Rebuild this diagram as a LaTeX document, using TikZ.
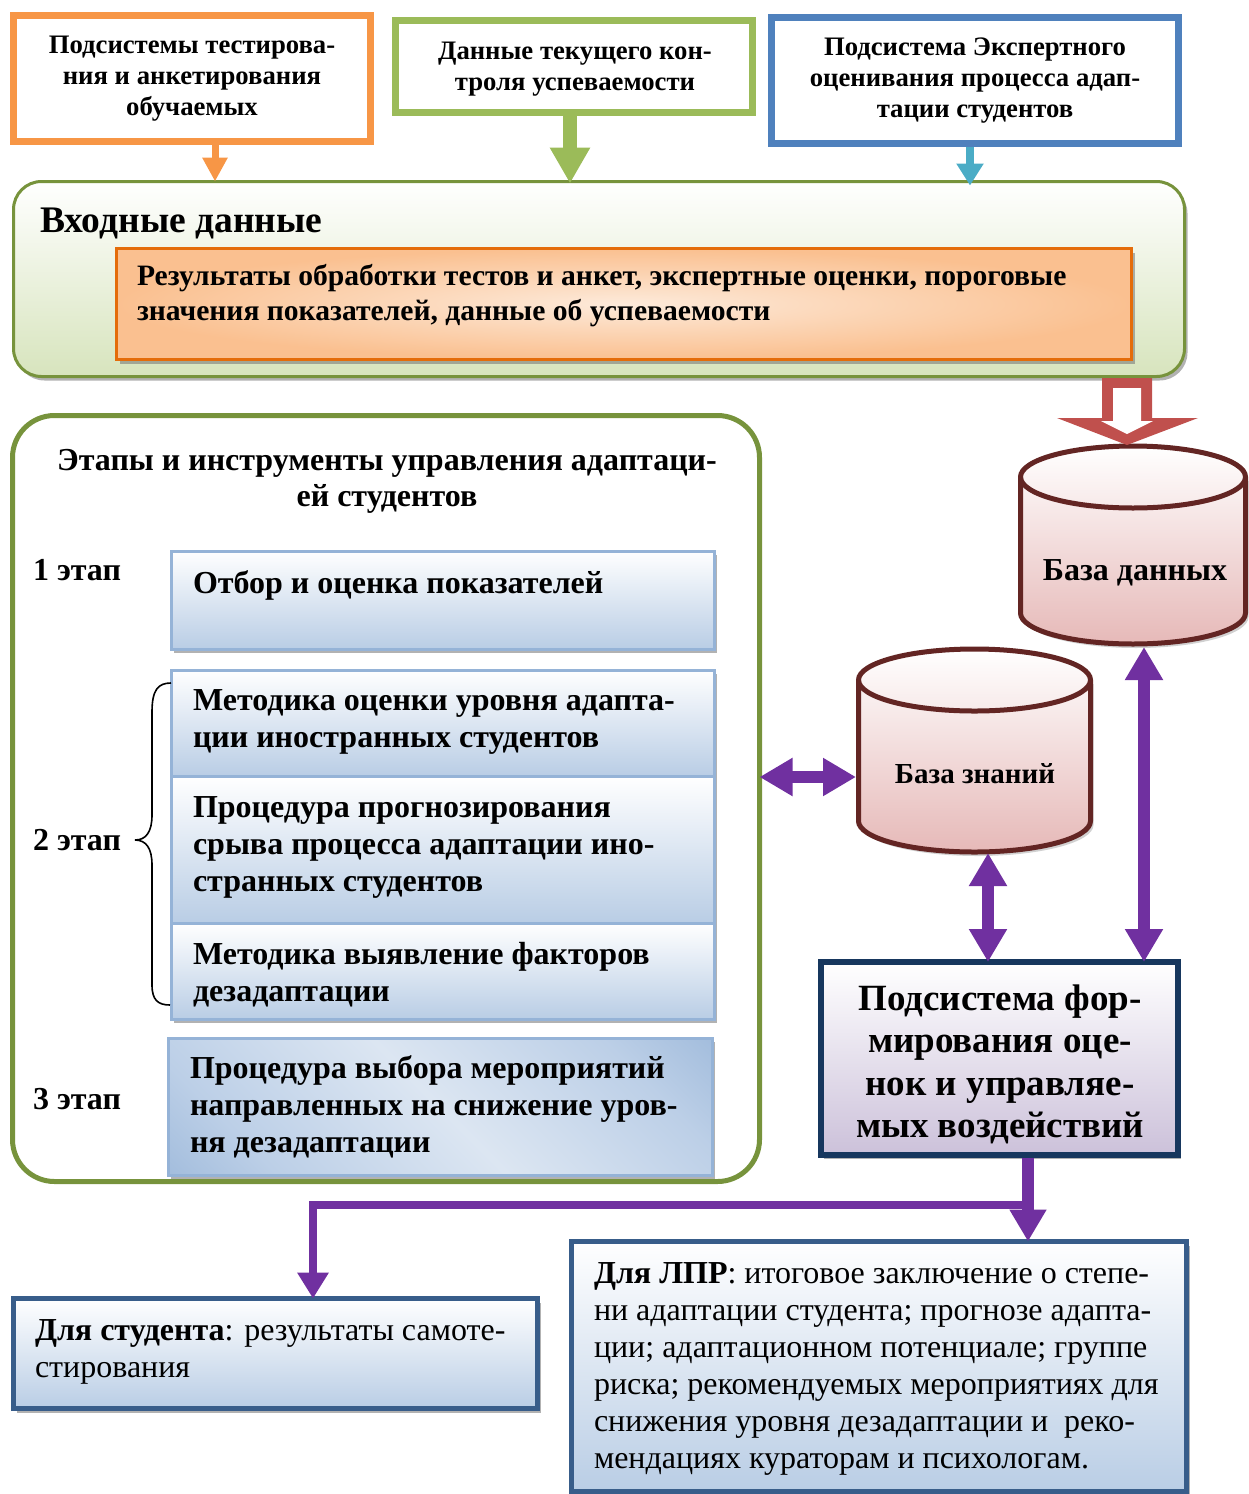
\documentclass[tikz,border=0pt]{standalone}
\usepackage{fontspec}
\setmainfont{Liberation Serif}
\usetikzlibrary{arrows.meta,shadows,fit}

\definecolor{cOrange}{HTML}{F79646}
\definecolor{cLime}{HTML}{9BBB59}
\definecolor{cBlue}{HTML}{4F81BD}
\definecolor{cCyan}{HTML}{4BACC6}
\definecolor{cOlive}{HTML}{77933C}
\definecolor{cOrDark}{HTML}{E46C0A}
\definecolor{cPeach}{HTML}{FAC090}
\definecolor{cPeachL}{HTML}{FDEADA}
\definecolor{cGreenF}{HTML}{D7E4BD}
\definecolor{cRed}{HTML}{C0504D}
\definecolor{cMaroon}{HTML}{632523}
\definecolor{cPink}{HTML}{E6B9B8}
\definecolor{cPurple}{HTML}{7030A0}
\definecolor{cNavy}{HTML}{17375E}
\definecolor{cLav}{HTML}{CCC1DA}
\definecolor{cSky}{HTML}{95B3D7}
\definecolor{cSkyM}{HTML}{BCCFE7}
\definecolor{cSkyF}{HTML}{B9CDE5}
\definecolor{cSkyL}{HTML}{DCE6F2}
\definecolor{cSteel}{HTML}{385D8A}

% diagonal fill of the third-stage box: darker at two opposite corners
\pgfdeclarehorizontalshading{stagediag}{100bp}{color(0bp)=(cSky); color(8bp)=(cSky); color(26bp)=(cSkyM); color(50bp)=(cSkyL); color(74bp)=(cSkyM); color(92bp)=(cSky); color(100bp)=(cSky)}

\begin{document}
\begin{tikzpicture}[x=1pt,y=-1pt,
  every node/.style={inner sep=0pt, outer sep=0pt},
  shad/.style={drop shadow={shadow xshift=3pt, shadow yshift=-4pt, fill=black!55, opacity=0.55}},
  srcbox/.style={draw, line width=7pt, fill=white},
  srctxt/.style={font=\fontsize{26.7}{31}\selectfont\bfseries, align=center, anchor=base},
  txt/.style={font=\fontsize{32}{37}\selectfont\bfseries, align=left, anchor=base west},
  stagebox/.style={draw=cSky, line width=3pt, top color=white, bottom color=cSkyF, shad},
  outbox/.style={draw=cSteel, line width=5pt, top color=white, bottom color=cSkyF, shad},
  dbl/.style={draw=cPurple, line width=12pt, {Triangle[width=36pt,length=33pt]}-{Triangle[width=36pt,length=33pt]}},
  cyl/.style={draw=cMaroon, line width=5pt, top color=white, bottom color=cPink}
]
\useasboundingbox (0,0) rectangle (1248,1494);

% Multi-line nodes are anchored at the baseline of their last line.

% ---------- source subsystems ----------
\node[srcbox, draw=cOrange, fit={(13.5,15.5) (370.5,141.5)}] (srcA) {};
\node[srctxt] (srcAt) at (192,115) {Подсистемы тестирова-\\ния и анкетирования\\обучаемых};

\node[srcbox, draw=cLime, fit={(395.5,20.5) (752.5,112.5)}] (srcB) {};
\node[srctxt] (srcBt) at (575,90) {Данные текущего кон-\\троля успеваемости};

\node[srcbox, draw=cBlue, fit={(771.5,17.5) (1178.5,143.5)}] (srcC) {};
\node[srctxt] (srcCt) at (975,117) {Подсистема Экспертного\\оценивания процесса адап-\\тации студентов};

% ---------- input data ----------
\node[fit={(13.5,181.5) (1184.5,376.5)}, draw=cOlive, line width=3pt, rounded corners=28pt,
      top color=white, bottom color=cGreenF, shad] (inp) {};
\node[txt, font=\fontsize{37.5}{42}\selectfont\bfseries] (inpt) at (40,232) {Входные данные};
\node[fit={(116.5,248.5) (1131.5,359.5)}, draw=cOrDark, line width=3pt,
      inner color=cPeachL, outer color=cPeach, shad] (res) {};
\node[txt, font=\fontsize{29.6}{35}\selectfont\bfseries] (rest) at (137,320)
  {Результаты обработки тестов и анкет, экспертные оценки, пороговые\\значения показателей, данные об успеваемости};

% arrows from the sources
\coordinate (oa) at (215,145);
\coordinate (ob) at (570,116);
\coordinate (oc) at (970,147);
\draw[cOrange, line width=7pt, -{Triangle[width=24pt,length=24pt]}] (oa) -- (oa |- inp.north);
\draw[cLime, line width=14pt, -{Triangle[width=38pt,length=36pt]}] (ob) -- ([yshift=-2pt]ob |- inp.north);
\draw[cCyan, line width=8pt, -{Triangle[width=26pt,length=22pt]}] (oc) -- ([yshift=-4pt]oc |- inp.north);

% ---------- stages ----------
\node[fit={(12.5,415.5) (759.5,1181.5)}, draw=cOlive, line width=5pt, rounded corners=42pt, fill=white] (stg) {};
\node[font=\fontsize{32}{36}\selectfont\bfseries, align=center, anchor=base] (stgt) at (387,506)
  {Этапы и инструменты управления адаптаци-\\ей студентов};

\node[txt] (e1) at (33,580) {1 этап};
\node[txt] (e2) at (33,850) {2 этап};
\node[txt] (e3) at (33,1109) {3 этап};

\node[stagebox, fit={(171,551) (714,649)}] (s1) {};
\node[txt] (s1t) at (193,593) {Отбор и оценка показателей};

\node[stagebox, fit={(171,670) (714,776)}] (s2) {};
\node[txt] (s2t) at (193,747) {Методика оценки уровня адапта-\\ции иностранных студентов};

\node[stagebox, fit={(171,776) (714,923)}] (s3) {};
\node[txt] (s3t) at (193,891) {Процедура прогнозирования\\срыва процесса адаптации ино-\\странных студентов};

\node[stagebox, fit={(171,923) (714,1019)}] (s4) {};
\node[txt] (s4t) at (193,1001) {Методика выявление факторов\\дезадаптации};

\node[fit={(168,1038) (712,1175)}, draw=cSky, line width=3pt, shading=stagediag, shading angle=45, shad] (s5) {};
\node[txt] (s5t) at (190,1152) {Процедура выбора мероприятий\\направленных на снижение уров-\\ня дезадаптации};

% brace grouping stage 2
\draw[line width=1.6pt] (s2.north west) ++(0,13)
  .. controls (158,683) and (152,690) .. (152,712) -- (152,815)
  .. controls (152,832) and (146,840) .. (135,840)
  .. controls (146,840) and (152,848) .. (152,865) -- (152,985)
  .. controls (152,1000) and (158,1005) .. (170,1005);

% ---------- data base ----------
\fill[black!40, opacity=0.45] (1023.5,481) -- (1023.5,617) arc[start angle=180, end angle=360, x radius=112.5pt, y radius=31pt] -- (1248.5,481) -- cycle;
\path[cyl] (1020.5,477) -- (1020.5,613) arc[start angle=180, end angle=360, x radius=112.5pt, y radius=31pt]
  -- (1245.5,477) arc[start angle=0, end angle=180, x radius=112.5pt, y radius=31pt] -- cycle;
\draw[cMaroon, line width=5pt] (1020.5,477) arc[start angle=180, end angle=360, x radius=112.5pt, y radius=31pt];
\node[font=\fontsize{32}{37}\selectfont\bfseries, anchor=base] (db) at (1135,580) {База данных};
\coordinate (dbtop) at (1127,445);
\coordinate (dbbot) at (1144,647);

% hollow arrow into the data base
\fill[cRed] (1102,378) -- (1152,378) -- (1152,418) -- (1198,418) -- (dbtop) -- (1057,418) -- (1102,418) -- cycle;
\fill[white] (1113,388) -- (1141,388) -- (1141,421) -- (1153,421) -- (1127,434) -- (1101,421) -- (1113,421) -- cycle;

% ---------- knowledge base ----------
\fill[black!40, opacity=0.45] (861.5,684) -- (861.5,825) arc[start angle=180, end angle=360, x radius=116pt, y radius=31pt] -- (1093.5,684) -- cycle;
\path[cyl] (858.5,680) -- (858.5,821) arc[start angle=180, end angle=360, x radius=116pt, y radius=31pt]
  -- (1090.5,680) arc[start angle=0, end angle=180, x radius=116pt, y radius=31pt] -- cycle;
\draw[cMaroon, line width=5pt] (858.5,680) arc[start angle=180, end angle=360, x radius=116pt, y radius=31pt];
\node[font=\fontsize{29}{34}\selectfont\bfseries, anchor=base] (kb) at (975,783) {База знаний};
\coordinate (kbleft) at (856,777);
\coordinate (kbbot) at (988,853);

% ---------- control subsystem ----------
\node[fit={(821,962) (1178,1155)}, draw=cNavy, line width=6pt, top color=white, bottom color=cLav, shad] (ctrl) {};
\node[font=\fontsize{37}{42.5}\selectfont\bfseries, align=center, anchor=base] (ctrlt) at (1000,1137.5)
  {Подсистема фор-\\мирования оце-\\нок и управляе-\\мых воздействий};

% two-way links
\draw[dbl] (kbleft -| stg.east) -- (kbleft);
\draw[dbl] (kbbot) -- (kbbot |- ctrl.north);
\draw[dbl] (dbbot) -- (dbbot |- ctrl.north);

% ---------- outputs ----------
\node[outbox, fit={(13.5,1298.5) (537.5,1408.5)}] (stud) {};
\node[txt, font=\fontsize{32}{37}\selectfont] (studt) at (35,1377)
  {\textbf{Для студента}: результаты самоте-\\стирования};

\node[outbox, fit={(571.5,1241.5) (1186.5,1491.5)}] (lpr) {};
\node[txt, font=\fontsize{32}{37}\selectfont] (lprt) at (594,1468)
  {\textbf{Для ЛПР}: итоговое заключение о степе-\\ни адаптации студента; прогнозе адапта-\\ции; адаптационном потенциале; группе\\риска; рекомендуемых мероприятиях для\\снижения уровня дезадаптации и~~реко-\\мендациях кураторам и психологам.};

\coordinate (outsrc) at (1028,1158);
\coordinate (split) at (1028,1205);
\coordinate (studin) at (313,1296);
\draw[cPurple, line width=8pt, -{Triangle[width=30pt,length=26pt]}] (split) -| (studin |- stud.north);
\draw[cPurple, line width=12pt, -{Triangle[width=35pt,length=32pt]}] (outsrc) -- (outsrc |- lpr.north);

\end{tikzpicture}
\end{document}
